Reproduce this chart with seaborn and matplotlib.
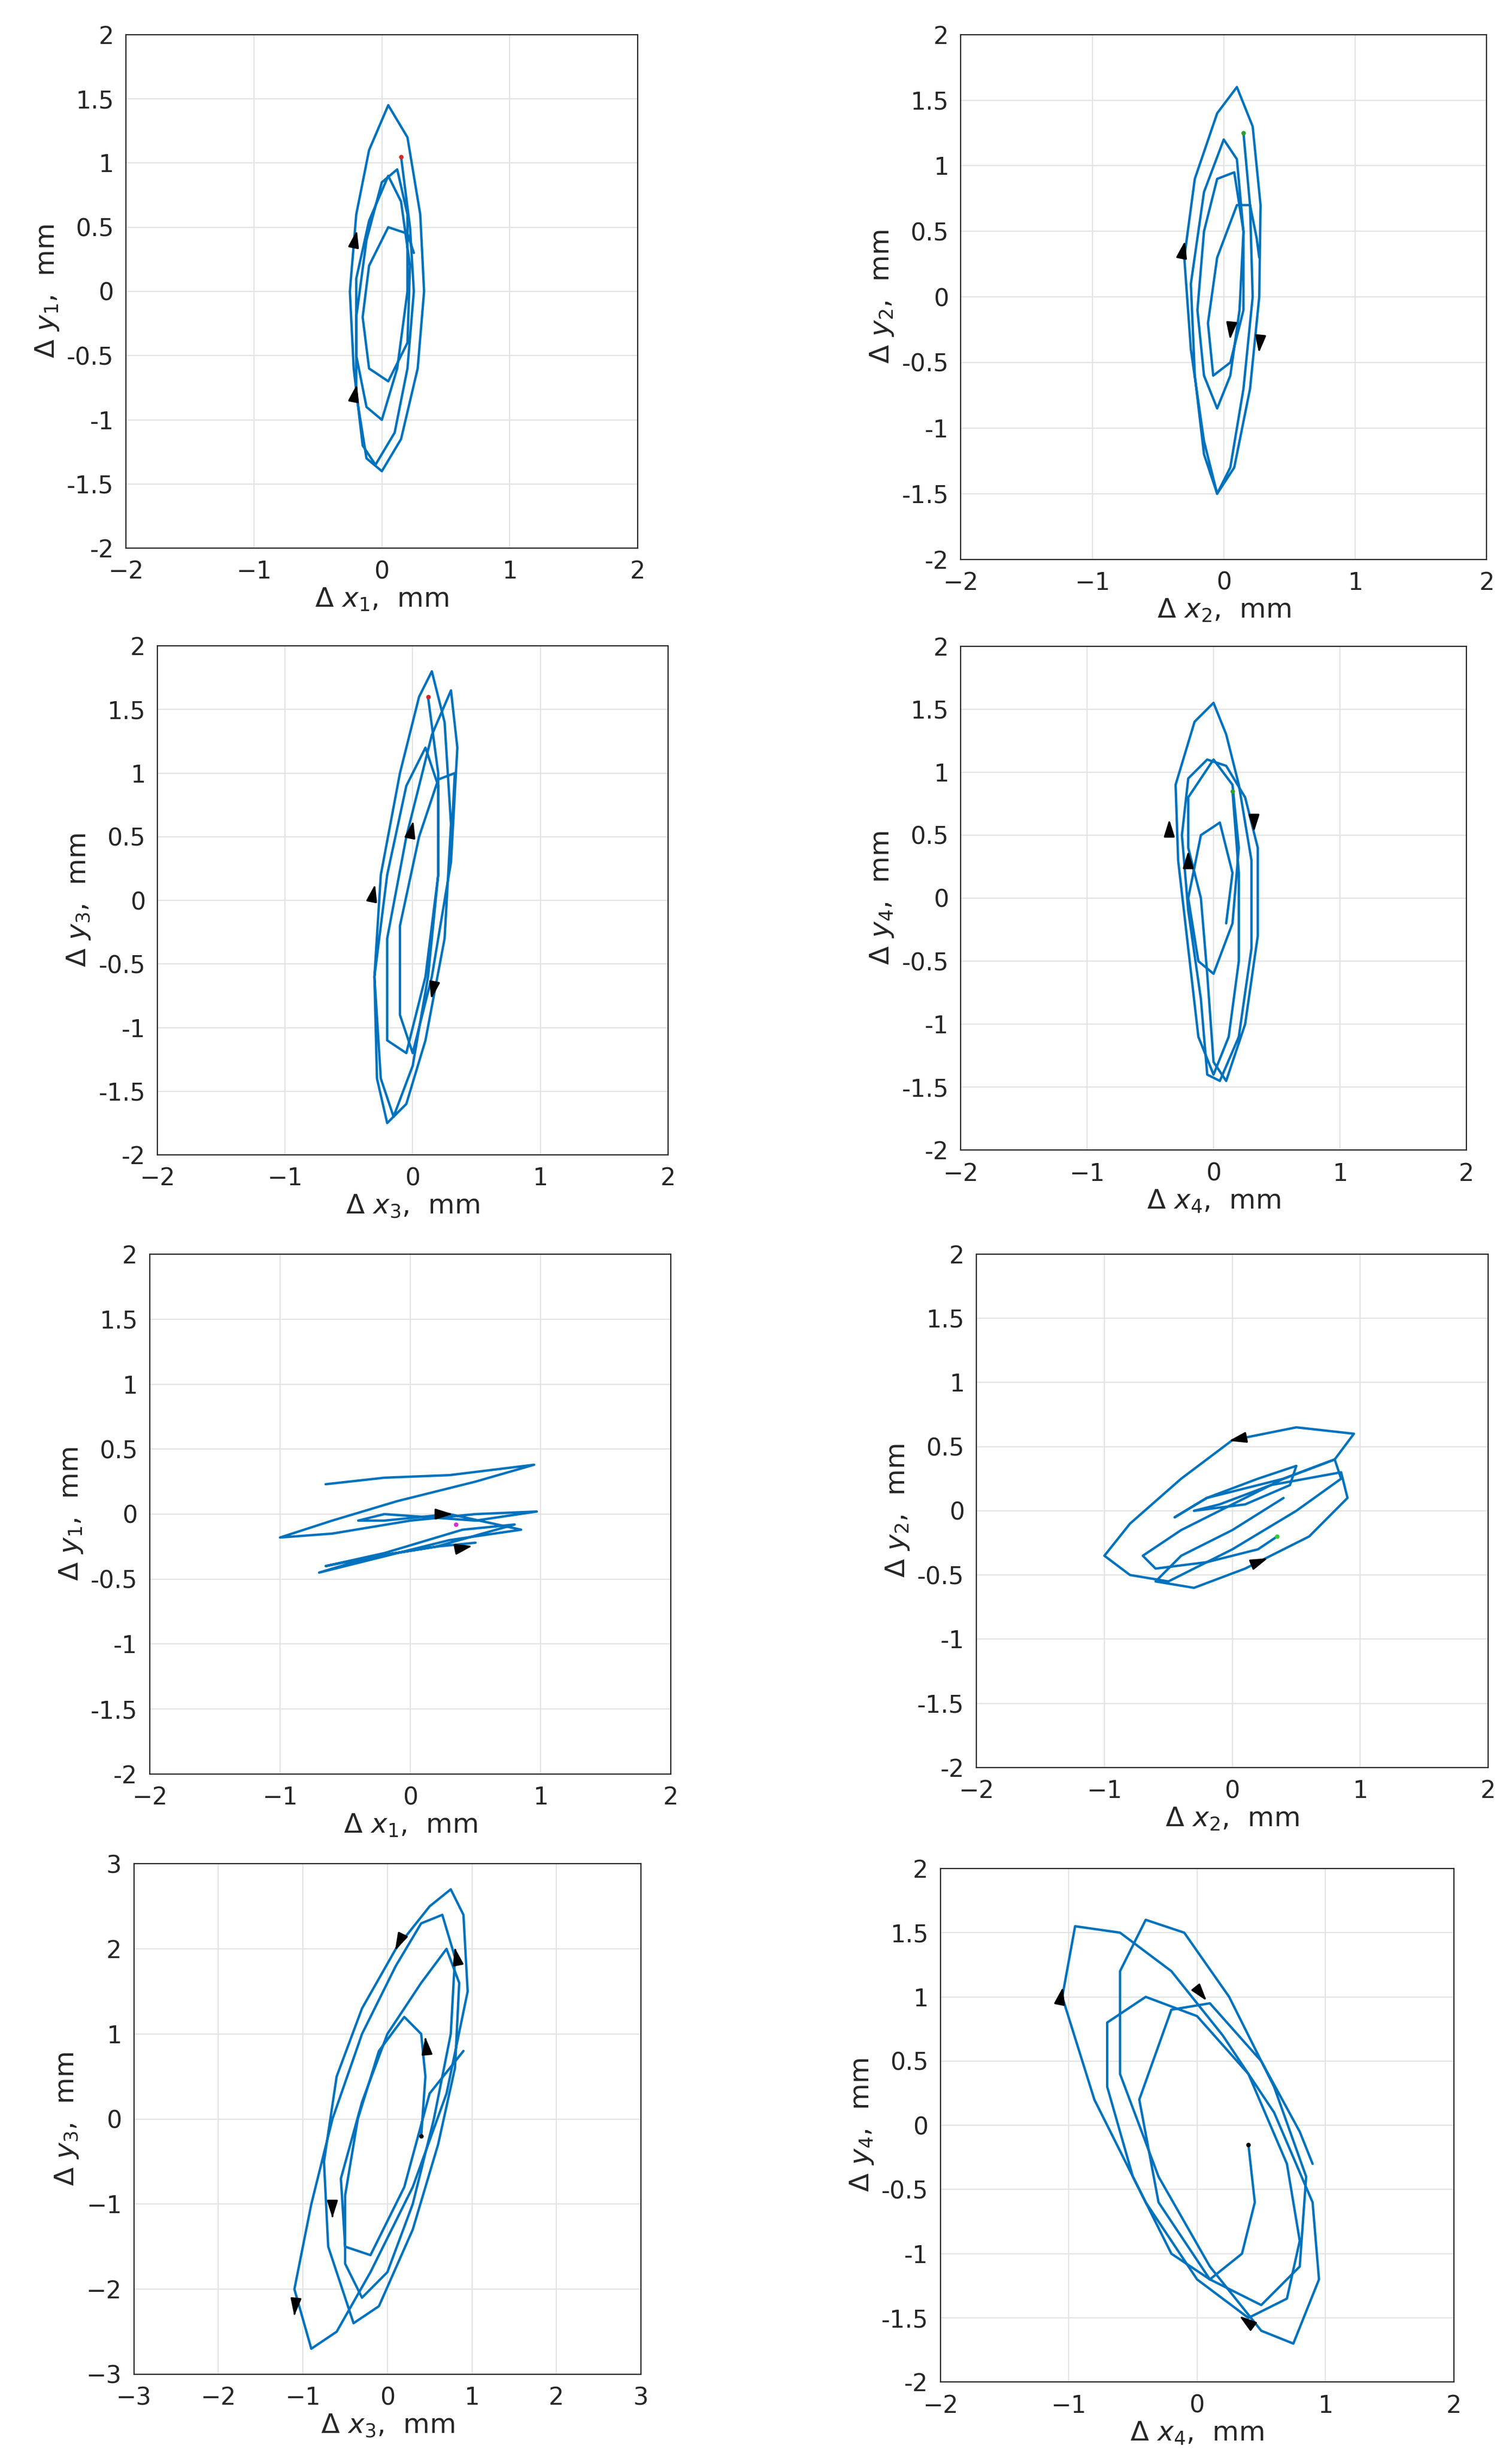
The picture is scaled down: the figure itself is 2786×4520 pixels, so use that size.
import matplotlib
matplotlib.use("Agg")
import matplotlib.pyplot as plt
import seaborn as sns
import pandas as pd
import numpy as np

sns.set_theme(style="whitegrid")
plt.rcParams['font.family'] = ['DejaVu Sans']
plt.rcParams['mathtext.fontset'] = 'dejavusans'

p1 = [(0.15,1.05),(0.22,0.5),(0.25,0),(0.2,-0.6),(0.1,-1.1),(-0.05,-1.35),(-0.15,-1.2),(-0.22,-0.6),(-0.25,0),(-0.2,0.6),(-0.1,1.1),(0.05,1.45),(0.2,1.2),(0.3,0.6),(0.33,0),(0.28,-0.6),(0.15,-1.15),(0,-1.4),(-0.12,-1.3),(-0.2,-0.8),(-0.2,-0.2),(-0.12,0.4),(0,0.85),(0.12,0.95),(0.2,0.6),(0.2,0),(0.12,-0.6),(0,-1.0),(-0.12,-0.9),(-0.2,-0.5),(-0.2,0.1),(-0.1,0.55),(0.05,0.9),(0.15,0.7),(0.22,0.2),(0.2,-0.4),(0.05,-0.7),(-0.1,-0.6),(-0.15,-0.2),(-0.1,0.2),(0.05,0.5),(0.2,0.45),(0.25,0.3)]
p2 = [(0.15,1.25),(0.2,0.7),(0.22,0),(0.15,-0.7),(0.05,-1.3),(-0.05,-1.5),(-0.15,-1.1),(-0.25,-0.4),(-0.3,0.3),(-0.22,0.9),(-0.05,1.4),(0.1,1.6),(0.22,1.3),(0.28,0.7),(0.27,0),(0.2,-0.7),(0.08,-1.3),(-0.05,-1.5),(-0.15,-1.2),(-0.22,-0.6),(-0.25,0.1),(-0.15,0.8),(0,1.2),(0.1,1.05),(0.15,0.5),(0.12,-0.1),(0.05,-0.6),(-0.05,-0.85),(-0.15,-0.6),(-0.2,-0.1),(-0.15,0.5),(-0.05,0.9),(0.08,0.95),(0.15,0.5),(0.15,-0.1),(0.05,-0.5),(-0.08,-0.6),(-0.12,-0.2),(-0.05,0.3),(0.1,0.7),(0.2,0.7),(0.25,0.45),(0.27,0.3)]
p3 = [(0.12,1.6),(0.2,1.0),(0.2,0.2),(0.12,-0.6),(0,-1.3),(-0.15,-1.7),(-0.25,-1.4),(-0.3,-0.6),(-0.25,0.2),(-0.1,1.0),(0.05,1.6),(0.15,1.8),(0.25,1.4),(0.3,0.6),(0.25,-0.3),(0.1,-1.1),(-0.05,-1.6),(-0.2,-1.75),(-0.28,-1.4),(-0.3,-0.6),(-0.2,0.2),(-0.05,0.9),(0.1,1.2),(0.2,0.9),(0.2,0.2),(0.1,-0.6),(-0.05,-1.2),(-0.2,-1.1),(-0.2,-0.3),(-0.05,0.5),(0.15,1.3),(0.3,1.65),(0.35,1.2),(0.3,0.3),(0.15,-0.6),(0,-1.2),(-0.1,-0.9),(-0.1,-0.2),(0.05,0.5),(0.2,0.95),(0.33,1.0),(0.3,0.4)]
p4 = [(0.15,0.85),(0.2,0.2),(0.2,-0.5),(0.12,-1.1),(0,-1.4),(-0.12,-1.1),(-0.2,-0.4),(-0.28,0.3),(-0.3,0.9),(-0.15,1.4),(0,1.55),(0.1,1.3),(0.2,0.9),(0.3,0.3),(0.3,-0.4),(0.2,-1.1),(0.05,-1.45),(-0.05,-1.4),(-0.1,-0.8),(-0.2,-0.1),(-0.25,0.5),(-0.2,0.95),(-0.05,1.1),(0.1,1.05),(0.25,0.8),(0.35,0.4),(0.35,-0.3),(0.25,-1.0),(0.1,-1.45),(0,-1.3),(-0.05,-0.6),(-0.1,0),(-0.2,0.4),(-0.2,0.8),(0,1.1),(0.15,0.9),(0.2,0.4),(0.15,-0.2),(0,-0.6),(-0.12,-0.5),(-0.2,0),(-0.1,0.5),(0.05,0.6),(0.15,0.2),(0.1,-0.2)]
p5 = [(-0.65,0.23),(-0.2,0.28),(0.3,0.3),(0.95,0.38),(0.5,0.25),(-0.1,0.1),(-0.6,-0.05),(-1.0,-0.18),(-0.6,-0.15),(0,-0.05),(0.5,0.0),(0.97,0.02),(0.5,-0.05),(-0.2,0.0),(-0.4,-0.05),(-0.2,-0.05),(0.3,0.0),(0.85,-0.12),(0.3,-0.2),(-0.3,-0.35),(-0.7,-0.45),(-0.3,-0.33),(0.2,-0.25),(0.8,-0.08),(0.4,-0.12),(-0.2,-0.3),(-0.65,-0.4),(-0.3,-0.33),(0.2,-0.25),(0.5,-0.22)]
p6 = [(0.35,-0.2),(0.2,-0.3),(-0.2,-0.4),(-0.6,-0.45),(-0.7,-0.35),(-0.4,-0.15),(0,0.05),(0.4,0.25),(0.8,0.4),(0.85,0.25),(0.5,0),(0,-0.3),(-0.5,-0.55),(-0.8,-0.5),(-1.0,-0.35),(-0.8,-0.1),(-0.4,0.25),(0,0.55),(0.5,0.65),(0.95,0.6),(0.8,0.4),(0.4,0.25),(-0.2,0.1),(-0.45,-0.05),(-0.2,0.1),(0.2,0.25),(0.5,0.35),(0.45,0.2),(0.1,0.05),(-0.3,0),(-0.1,0.05),(0.3,0.2),(0.85,0.3),(0.9,0.1),(0.6,-0.2),(0.1,-0.45),(-0.3,-0.6),(-0.6,-0.55),(-0.4,-0.35),(0,-0.15),(0.4,0.1)]
p7 = [(0.4,-0.2),(0.45,0.5),(0.4,1.0),(0.2,1.2),(-0.1,0.8),(-0.35,0),(-0.5,-0.9),(-0.5,-1.7),(-0.3,-2.1),(0,-1.8),(0.3,-1.0),(0.55,0),(0.75,1.0),(0.8,1.9),(0.65,2.4),(0.4,2.3),(0.1,1.8),(-0.3,1.0),(-0.65,0),(-0.9,-1.0),(-1.1,-2.0),(-0.9,-2.7),(-0.6,-2.5),(-0.2,-1.8),(0.3,-0.8),(0.7,0.3),(0.95,1.5),(0.9,2.4),(0.75,2.7),(0.5,2.5),(0.1,2.0),(-0.3,1.3),(-0.6,0.5),(-0.75,-0.5),(-0.7,-1.5),(-0.4,-2.4),(-0.1,-2.2),(0.3,-1.3),(0.6,-0.3),(0.8,0.6),(0.85,1.6),(0.7,2.0),(0.4,1.6),(0.0,1.0),(-0.3,0.2),(-0.55,-0.7),(-0.5,-1.5),(-0.2,-1.6),(0.2,-0.8),(0.5,0.3),(0.9,0.8)]
p8 = [(0.4,-0.15),(0.45,-0.6),(0.35,-1.0),(0.1,-1.2),(-0.2,-1.0),(-0.5,-0.4),(-0.7,0.3),(-0.7,0.8),(-0.4,1.0),(0,0.85),(0.4,0.4),(0.7,-0.3),(0.8,-0.9),(0.7,-1.35),(0.4,-1.5),(0,-1.2),(-0.4,-0.6),(-0.8,0.2),(-1.05,1.0),(-0.95,1.55),(-0.6,1.5),(-0.2,1.2),(0.2,0.7),(0.6,0.1),(0.9,-0.6),(0.95,-1.2),(0.75,-1.7),(0.5,-1.6),(0.1,-1.1),(-0.3,-0.4),(-0.6,0.4),(-0.6,1.2),(-0.4,1.6),(-0.1,1.5),(0.25,1.0),(0.6,0.3),(0.85,-0.4),(0.8,-1.1),(0.5,-1.4),(0.1,-1.2),(-0.3,-0.6),(-0.45,0.2),(-0.2,0.9),(0.1,0.95),(0.5,0.5),(0.8,-0.05),(0.9,-0.3)]

# arrows: (x, y, dx, dy)
a1 = [(-0.2,0.45,0.02,0.1),(-0.2,-0.75,0.02,0.1)]
a2 = [(-0.3,0.4,0.02,0.1),(0.05,-0.3,-0.01,-0.1),(0.27,-0.4,-0.01,-0.1)]
a3 = [(-0.3,0.1,0.02,0.1),(0.0,0.6,0.02,0.1),(0.15,-0.75,-0.02,-0.1)]
a4 = [(-0.35,0.6,0.0,0.1),(-0.2,0.35,0.0,0.1),(0.32,0.55,0.0,-0.1)]
a5 = [(0.3,0.0,0.1,0.0),(0.45,-0.25,0.1,0.02)]
a6 = [(0.0,0.55,-0.1,-0.02),(0.25,-0.38,0.1,0.04)]
a7 = [(0.1,2.0,-0.05,-0.1),(0.8,2.0,-0.02,0.1),(0.45,0.95,-0.01,0.1),(-0.65,-1.15,0.0,-0.1),(-1.1,-2.3,-0.01,-0.1)]
a8 = [(-1.05,1.05,0.02,0.1),(0.05,1.0,0.08,-0.1),(0.35,-1.5,-0.08,0.06)]

starts = [(0.15,1.05,'#d62728'),(0.15,1.25,'#2ca02c'),(0.12,1.6,'#d62728'),(0.15,0.85,'#2ca02c'),
          (0.35,-0.08,'#cc33cc'),(0.35,-0.2,'#33cc33'),(0.4,-0.2,'#000000'),(0.4,-0.15,'#000000')]

xlabels = [r"$\Delta\ x_1$,  mm", r"$\Delta\ x_2$,  mm", r"$\Delta\ x_3$,  mm", r"$\Delta\ x_4$,  mm",
           r"$\Delta\ x_1$,  mm", r"$\Delta\ x_2$,  mm", r"$\Delta\ x_3$,  mm", r"$\Delta\ x_4$,  mm"]
ylabels = [r"$\Delta\ y_1$,  mm", r"$\Delta\ y_2$,  mm", r"$\Delta\ y_3$,  mm", r"$\Delta\ y_4$,  mm",
           r"$\Delta\ y_1$,  mm", r"$\Delta\ y_2$,  mm", r"$\Delta\ y_3$,  mm", r"$\Delta\ y_4$,  mm"]
lims = [(-2,2,-2,2)]*6 + [(-3,3,-3,3),(-2,2,-2,2)]

positions = [[0.0833,0.7765,0.3385,0.2094],[0.6354,0.7720,0.3479,0.2139],
             [0.1042,0.5292,0.3375,0.2075],[0.6354,0.5311,0.3344,0.2055],
             [0.0990,0.2768,0.3448,0.2119],[0.6458,0.2794,0.3385,0.2094],
             [0.0885,0.0321,0.3354,0.2081],[0.6219,0.0289,0.3396,0.2094]]

curves = [p1,p2,p3,p4,p5,p6,p7,p8]
arrows = [a1,a2,a3,a4,a5,a6,a7,a8]

fig = plt.figure(figsize=(13.93,22.6), dpi=200)
for i in range(8):
    ax = fig.add_axes(positions[i])
    df = pd.DataFrame(curves[i], columns=['x','y'])
    sns.lineplot(data=df, x='x', y='y', sort=False, estimator=None, ax=ax,
                 color='#0072BD', linewidth=1.6)
    for (x,y,dx,dy) in arrows[i]:
        ax.annotate("", xy=(x+dx*0.5,y+dy*0.5), xytext=(x-dx*0.5,y-dy*0.5),
                    arrowprops=dict(arrowstyle='-|>,head_length=0.8,head_width=0.25', color='black', lw=1.2))
    sx, sy, sc = starts[i]
    ax.plot([sx],[sy], marker='.', color=sc, markersize=4)
    x0,x1,y0,y1 = lims[i]
    ax.set_xlim(x0,x1); ax.set_ylim(y0,y1)
    if i == 6:
        ax.set_xticks(np.arange(-3,4,1)); ax.set_yticks(np.arange(-3,4,1))
    else:
        ax.set_xticks(np.arange(-2,3,1)); ax.set_yticks(np.arange(-2,2.01,0.5))
        ax.set_yticklabels([('%g' % v) for v in np.arange(-2,2.01,0.5)])
    ax.set_xlabel(xlabels[i], fontsize=18, labelpad=2)
    ax.set_ylabel(ylabels[i], fontsize=18, labelpad=4)
    ax.tick_params(axis='x', labelsize=16, length=0, pad=8)
    ax.tick_params(axis='y', labelsize=16, length=0, pad=8)
    ax.set_facecolor('white')
    ax.grid(True, color='#e3e3e3', linewidth=0.8)
    for s in ax.spines.values():
        s.set_visible(True); s.set_color('#262626'); s.set_linewidth(0.8)

fig.savefig("out.png", dpi=200, facecolor='white')
